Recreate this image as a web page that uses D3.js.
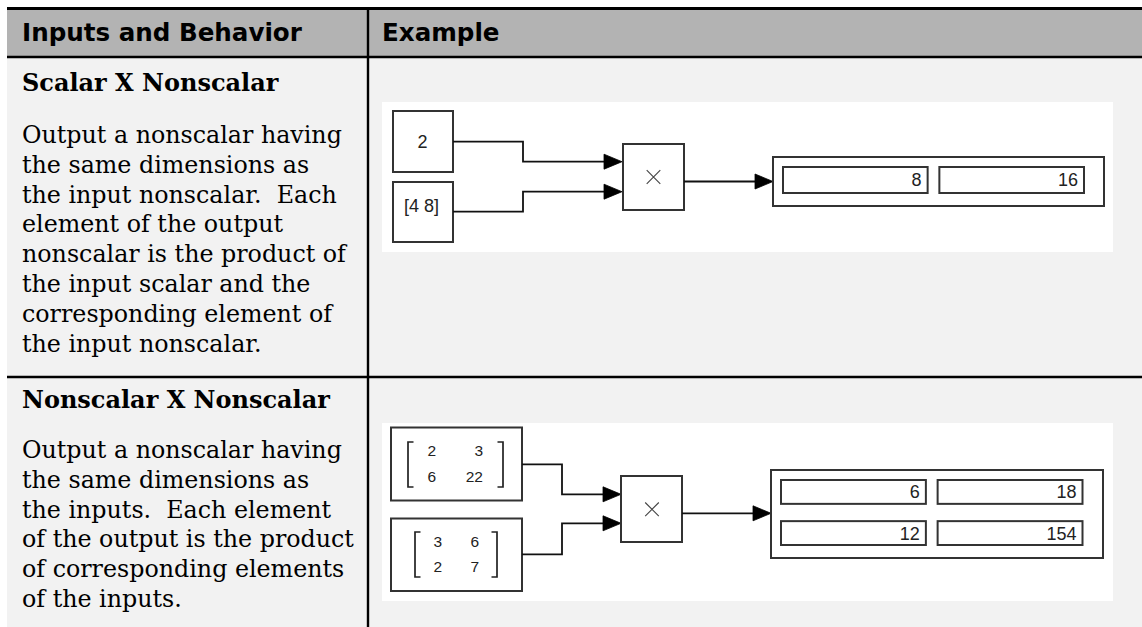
<!DOCTYPE html>
<html>
<head>
<meta charset="utf-8">
<script src="https://cdn.jsdelivr.net/npm/d3@7/dist/d3.min.js"></script>
<style>
  html, body { margin: 0; padding: 0; background: #ffffff; }
  svg { display: block; }
</style>
</head>
<body>
<svg id="chart" width="1142" height="627"></svg>
<script>
// ---------------- data ----------------
const headers = ["Inputs and Behavior", "Example"];
const rowTitles = ["Scalar X Nonscalar", "Nonscalar X Nonscalar"];
const rowBody1 = [
  "Output a nonscalar having",
  "the same dimensions as",
  "the input nonscalar.  Each",
  "element of the output",
  "nonscalar is the product of",
  "the input scalar and the",
  "corresponding element of",
  "the input nonscalar."
];
const rowBody2 = [
  "Output a nonscalar having",
  "the same dimensions as",
  "the inputs.  Each element",
  "of the output is the product",
  "of corresponding elements",
  "of the inputs."
];
const ex1Inputs = ["2", "[4 8]"];
const ex1Outputs = [8, 16];
const ex2InputA = [[2, 3], [6, 22]];
const ex2InputB = [[3, 6], [2, 7]];
const ex2Outputs = [[6, 18], [12, 154]];

// ---------------- layout ----------------
const W = 1142, H = 627;
const svg = d3.select("#chart");
const tableLeft = 7, colDiv = 368, headTop = 8.5, headBot = 57, rowDiv = 377;

const serif = "'DejaVu Serif', 'Liberation Serif', serif";
const sansB = "'DejaVu Sans', 'Liberation Sans', sans-serif";
const uiSans = "'Liberation Sans', Arial, sans-serif";

function measure(sample, family, weight, size) {
  const t = svg.append("text").attr("font-family", family).attr("font-weight", weight)
    .attr("font-size", size).attr("xml:space", "preserve").text(sample);
  const w = t.node().getComputedTextLength();
  t.remove();
  return w;
}
const headSize = 20 * 280 / measure(headers[0], sansB, "bold", 20);
const titleSize = 20 * 308 / measure(rowTitles[1], serif, "bold", 20);
const bodyFont = 23.5;
const bodySX = 320 / measure(rowBody1[0], serif, "normal", bodyFont);

// backgrounds
svg.append("rect").attr("x", tableLeft).attr("y", headTop).attr("width", W - tableLeft)
  .attr("height", headBot - headTop).attr("fill", "#b3b3b3");
svg.append("rect").attr("x", tableLeft).attr("y", headBot).attr("width", W - tableLeft)
  .attr("height", H - headBot).attr("fill", "#f2f2f2");

// header text
const colX = [22, 382];
svg.selectAll("text.head").data(headers).join("text").attr("class", "head")
  .attr("x", (d, i) => colX[i]).attr("y", 41)
  .attr("font-family", sansB).attr("font-weight", "bold").attr("font-size", headSize)
  .attr("fill", "#000").text(d => d);

// rows
const titleY = [91, 408];
const bodyY0 = [143, 458];
const bodies = [rowBody1, rowBody2];
const lineStep = 29.8;
rowTitles.forEach((title, r) => {
  svg.append("text").attr("x", 22).attr("y", titleY[r])
    .attr("font-family", serif).attr("font-weight", "bold").attr("font-size", titleSize)
    .attr("fill", "#000").text(title);
  svg.append("g").attr("transform", `translate(22,0) scale(${bodySX},1)`)
    .selectAll("text").data(bodies[r]).join("text")
    .attr("x", 0).attr("y", (d, i) => bodyY0[r] + i * lineStep)
    .attr("font-family", serif).attr("font-size", bodyFont).attr("fill", "#000")
    .attr("xml:space", "preserve").style("white-space", "pre")
    .text(d => d);
});

// table rules
const rule = (x1, y1, x2, y2, w) => svg.append("line").attr("x1", x1).attr("y1", y1)
  .attr("x2", x2).attr("y2", y2).attr("stroke", "#000").attr("stroke-width", w);
rule(tableLeft, headTop, W, headTop, 2.8);
rule(tableLeft, headBot, W, headBot, 2.6);
rule(tableLeft, rowDiv, W, rowDiv, 2.6);
rule(colDiv, headTop, colDiv, H, 2.4);

// ---------------- diagram helpers ----------------
const blockStroke = "#333";
function block(g, x, y, w, h) {
  g.append("rect").attr("x", x).attr("y", y).attr("width", w).attr("height", h)
    .attr("fill", "#fff").attr("stroke", blockStroke).attr("stroke-width", 2);
}
function wire(g, pts) {
  const tip = pts[pts.length - 1];
  const body = pts.slice(0, -1).concat([[tip[0] - 17, tip[1]]]);
  g.append("path").attr("d", d3.line()(body)).attr("fill", "none")
    .attr("stroke", "#111").attr("stroke-width", 1.8);
  g.append("path").attr("d", d3.line()([[tip[0] - 18, tip[1] - 7.5], [tip[0], tip[1]], [tip[0] - 18, tip[1] + 7.5]]) + "Z")
    .attr("fill", "#000").attr("stroke", "#000").attr("stroke-width", 0.8).attr("stroke-linejoin", "round");
}
function product(g, x, y, w, h, cx, cy) {
  block(g, x, y, w, h);
  const s = 6.8;
  g.append("path").attr("d", `M${cx - s},${cy - s}L${cx + s},${cy + s}M${cx - s},${cy + s}L${cx + s},${cy - s}`)
    .attr("stroke", "#444").attr("stroke-width", 1.1).attr("fill", "none");
}
function display(g, box, values, cellX, cellY, fs) {
  block(g, box.x, box.y, box.w, box.h);
  const rows = values.length, cols = values[0].length;
  const xs = d3.scaleBand().domain(d3.range(cols)).range(cellX).paddingInner(0.075);
  const ys = d3.scaleBand().domain(d3.range(rows)).range(cellY).paddingInner(rows > 1 ? 0.42 : 0);
  values.forEach((row, ri) => row.forEach((v, ci) => {
    g.append("rect").attr("x", xs(ci)).attr("y", ys(ri)).attr("width", xs.bandwidth())
      .attr("height", ys.bandwidth()).attr("fill", "#fff").attr("stroke", "#333").attr("stroke-width", 2);
    g.append("text").attr("x", xs(ci) + xs.bandwidth() - 6).attr("y", ys(ri) + ys.bandwidth() / 2 + fs * 0.36)
      .attr("text-anchor", "end").attr("font-family", uiSans).attr("font-size", fs)
      .attr("fill", "#222").text(v);
  }));
}
function matrix(g, m, left, right, top, bottom, colRight, rowBase, fs) {
  const tick = 5.5;
  g.append("path").attr("d", `M${left + tick},${top}H${left}V${bottom}H${left + tick}`)
    .attr("fill", "none").attr("stroke", "#222").attr("stroke-width", 1.7);
  g.append("path").attr("d", `M${right - tick},${top}H${right}V${bottom}H${right - tick}`)
    .attr("fill", "none").attr("stroke", "#222").attr("stroke-width", 1.7);
  const xs = d3.scalePoint().domain(d3.range(m[0].length)).range(colRight);
  const ys = d3.scalePoint().domain(d3.range(m.length)).range(rowBase);
  m.forEach((row, ri) => row.forEach((v, ci) => {
    g.append("text").attr("x", xs(ci)).attr("y", ys(ri)).attr("text-anchor", "end")
      .attr("font-family", uiSans).attr("font-size", fs).attr("fill", "#222").text(v);
  }));
}

// ---------------- example 1 ----------------
const g1 = svg.append("g");
g1.append("rect").attr("x", 382).attr("y", 102).attr("width", 731).attr("height", 150).attr("fill", "#fff");
block(g1, 393, 111, 60, 61);
block(g1, 393, 182, 60, 60);
g1.append("text").attr("x", 422.5).attr("y", 148).attr("text-anchor", "middle")
  .attr("font-family", uiSans).attr("font-size", 18).attr("fill", "#222").text(ex1Inputs[0]);
g1.append("text").attr("x", 421.5).attr("y", 211.5).attr("text-anchor", "middle")
  .attr("font-family", uiSans).attr("font-size", 18).attr("fill", "#222").text(ex1Inputs[1]);
wire(g1, [[453, 141.7], [523, 141.7], [523, 161.7], [622, 161.7]]);
wire(g1, [[453, 211.7], [523, 211.7], [523, 191.7], [622, 191.7]]);
product(g1, 623, 144, 61, 66, 653.5, 177);
wire(g1, [[684, 181.5], [773, 181.5]]);
display(g1, {x: 773, y: 157, w: 331, h: 49}, [ex1Outputs], [783, 1084], [167, 193], 18);

// ---------------- example 2 ----------------
const g2 = svg.append("g");
g2.append("rect").attr("x", 382).attr("y", 423).attr("width", 731).attr("height", 178).attr("fill", "#fff");
block(g2, 391, 427.5, 131, 73);
block(g2, 391, 518.5, 131, 72.5);
matrix(g2, ex2InputA, 408, 503, 442, 487, [436, 483], [455.5, 482], 15.5);
matrix(g2, ex2InputB, 415, 497, 532, 577, [442, 479], [546.5, 572], 15.5);
wire(g2, [[522, 464.3], [562, 464.3], [562, 494.3], [621, 494.3]]);
wire(g2, [[522, 554.3], [562, 554.3], [562, 523.3], [621, 523.3]]);
product(g2, 621, 476, 61, 66, 652, 509.3);
wire(g2, [[682, 513.3], [771, 513.3]]);
display(g2, {x: 771, y: 470, w: 332, h: 88}, ex2Outputs, [781, 1082.5], [480, 545], 18);
</script>
</body>
</html>
